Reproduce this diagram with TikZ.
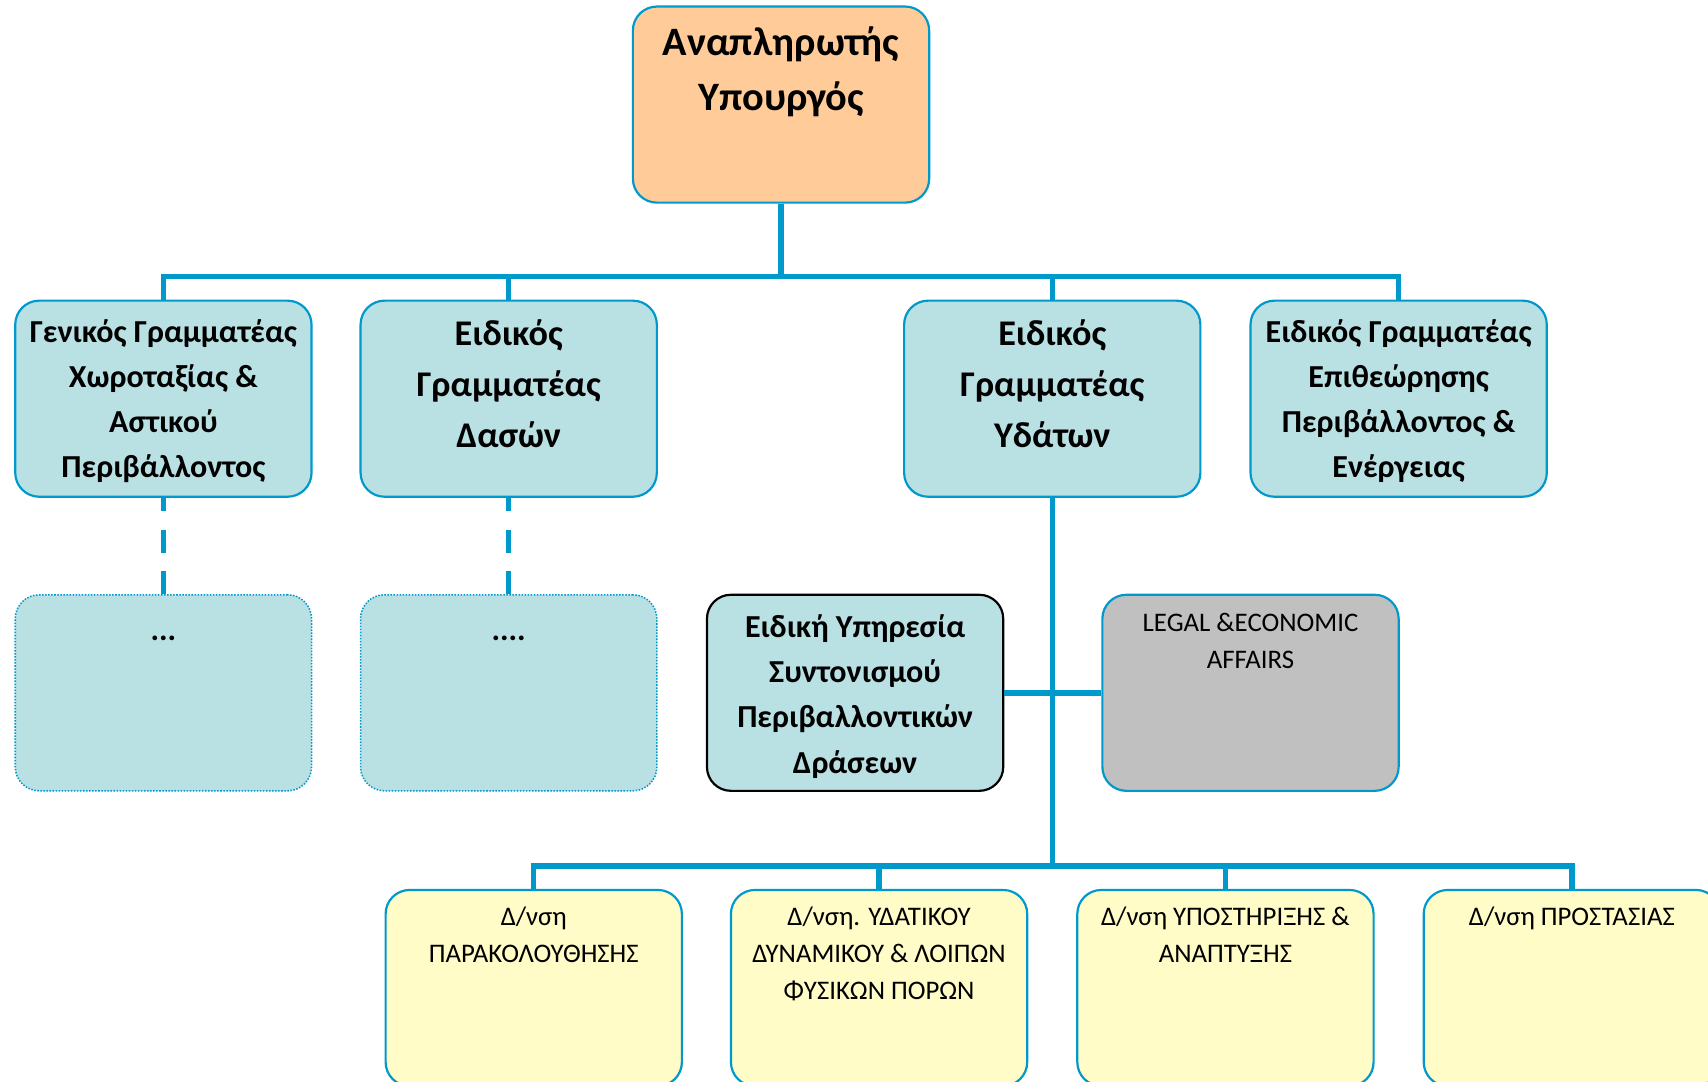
\documentclass[tikz,border=0pt]{standalone}
\usepackage{fontspec}
\setmainfont{Carlito}
\definecolor{lineblue}{RGB}{0,153,204}
\definecolor{paleblue}{RGB}{185,224,227}
\definecolor{orangebox}{RGB}{255,204,153}
\definecolor{greybox}{RGB}{192,192,192}
\definecolor{yellowbox}{RGB}{255,252,200}
\newcommand{\boxtext}[2]{\parbox[c][90pt][t]{136pt}{\centering\rule{0pt}{#1}#2}}

\begin{document}
\begin{tikzpicture}[x=0.5pt,y=-0.5pt]
	\tikzset{orgbox/.style={draw=lineblue,line width=1pt,rounded corners=11pt,inner sep=0pt,fill=paleblue}}
	\tikzset{titlefont/.style={font=\fontsize{18.5}{25}\selectfont\bfseries}}
	\tikzset{bigfont/.style={font=\fontsize{16.6}{23.5}\selectfont\bfseries}}
	\tikzset{smallfont/.style={font=\fontsize{14.7}{20.8}\selectfont\bfseries}}
	\tikzset{plainfont/.style={font=\fontsize{12.3}{17}\selectfont}}
	\tikzset{conn/.style={draw=lineblue,line width=2.5pt}}
	\useasboundingbox (0,0) rectangle (1568,993);
	\clip (0,0) rectangle (1568,993);
	\node[orgbox,fill=orangebox,titlefont] (minister) at (717,96) {\boxtext{22.5pt}{Αναπληρωτής\\Υπουργός}};
	\node[orgbox,smallfont] (gsplan) at (150,366) {\boxtext{19pt}{Γενικός Γραμματέας\\Χωροταξίας \&\\Αστικού\\Περιβάλλοντος}};
	\node[orgbox,bigfont] (ssforest) at (467,366) {\boxtext{20.5pt}{Ειδικός\\Γραμματέας\\Δασών}};
	\node[orgbox,bigfont] (sswater) at (966,366) {\boxtext{20.5pt}{Ειδικός\\Γραμματέας\\Υδάτων}};
	\node[orgbox,smallfont] (ssinspect) at (1284,366) {\boxtext{19pt}{Ειδικός Γραμματέας\\Επιθεώρησης\\Περιβάλλοντος \&\\Ενέργειας}};
	\node[orgbox,smallfont,line width=0.7pt,dash pattern=on 0.7pt off 0.7pt] (subplan) at (150,636) {\boxtext{21pt}{...}};
	\node[orgbox,smallfont,line width=0.7pt,dash pattern=on 0.7pt off 0.7pt] (subforest) at (467,636) {\boxtext{21pt}{....}};
	\node[orgbox,smallfont,draw=black] (coord) at (785,636) {\boxtext{19.5pt}{Ειδική Υπηρεσία\\Συντονισμού\\Περιβαλλοντικών\\Δράσεων}};
	\node[orgbox,plainfont,fill=greybox] (legal) at (1148,636) {\boxtext{17pt}{LEGAL \&ECONOMIC\\AFFAIRS}};
	\node[orgbox,plainfont,fill=yellowbox] (dmon) at (490,907) {\boxtext{16.5pt}{Δ/νση\\ΠΑΡΑΚΟΛΟΥΘΗΣΗΣ}};
	\node[orgbox,plainfont,fill=yellowbox] (dres) at (807,907) {\boxtext{16.5pt}{Δ/νση. ΥΔΑΤΙΚΟΥ\\ΔΥΝΑΜΙΚΟΥ \& ΛΟΙΠΩΝ\\ΦΥΣΙΚΩΝ ΠΟΡΩΝ}};
	\node[orgbox,plainfont,fill=yellowbox] (dsup) at (1125,907) {\boxtext{16.5pt}{Δ/νση ΥΠΟΣΤΗΡΙΞΗΣ \&\\ΑΝΑΠΤΥΞΗΣ}};
	\node[orgbox,plainfont,fill=yellowbox] (dprot) at (1443,907) {\boxtext{16.5pt}{Δ/νση ΠΡΟΣΤΑΣΙΑΣ}};
	\coordinate (topbus) at (717,254);
	\coordinate (lowbus) at (966,795);
	\draw[conn] (minister.south) -- (topbus);
	\foreach \n in {gsplan,ssforest,sswater,ssinspect}
		\draw[conn] (topbus) -| (\n.north);
	\draw[conn,dash pattern=on 10.5pt off 8.5pt] (subplan.north) -- (gsplan.south);
	\draw[conn,dash pattern=on 10.5pt off 8.5pt] (subforest.north) -- (ssforest.south);
	\draw[conn] (sswater.south) -- (lowbus);
	\draw[conn] (coord.east) -- (legal.west);
	\foreach \n in {dmon,dres,dsup,dprot}
		\draw[conn] (lowbus) -| (\n.north);
\end{tikzpicture}
\end{document}
